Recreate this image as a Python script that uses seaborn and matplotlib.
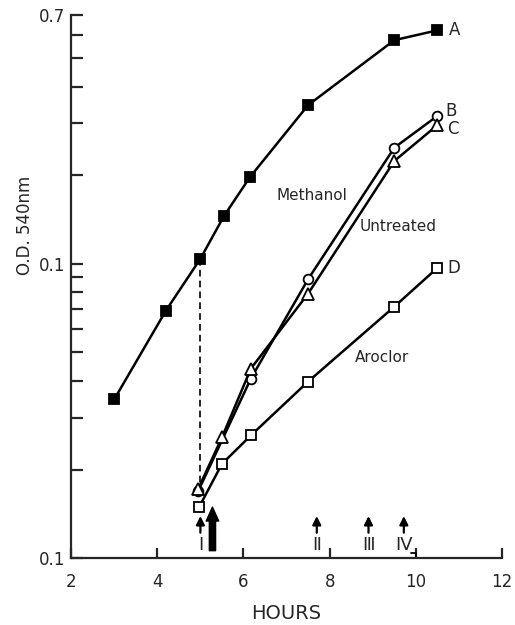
import matplotlib
matplotlib.use('Agg')
import matplotlib.pyplot as plt
import seaborn as sns
from matplotlib.ticker import FixedLocator, NullFormatter

sns.set_style("ticks")
plt.rcParams.update({
    'font.family': ['DejaVu Sans'],
    'axes.linewidth': 1.6,
})

# growth curves, O.D. 540 nm vs hours
hours_A = [3.0, 4.2, 5.0, 5.55, 6.15, 7.5, 9.5, 10.5]
od_A = [0.0346, 0.0693, 0.104, 0.1455, 0.197, 0.346, 0.575, 0.621]

hours_B = [4.95, 6.17, 7.5, 9.5, 10.5]   # untreated
od_B = [0.0169, 0.0407, 0.0887, 0.248, 0.318]

hours_C = [4.95, 5.5, 6.17, 7.5, 9.5, 10.5]   # methanol
od_C = [0.0172, 0.0257, 0.044, 0.0792, 0.2235, 0.296]

hours_D = [4.97, 5.5, 6.17, 7.5, 9.5, 10.5]   # aroclor
od_D = [0.0149, 0.0209, 0.0261, 0.0398, 0.0715, 0.0969]

# sampling times (small arrows) and treatment time (big arrow)
sample_hours = [5.0, 7.7, 8.9, 9.72]
sample_labels = ['Ⅰ', 'Ⅱ', 'Ⅲ', 'Ⅳ']
treat_hour = 5.28

fig, ax = plt.subplots(figsize=(5.15, 6.25), dpi=100)
fig.subplots_adjust(left=0.138, right=0.975, top=0.976, bottom=0.107)

common = dict(ax=ax, color='black', linewidth=1.8, mec='black', mew=1.3, zorder=3)
sns.lineplot(x=hours_A, y=od_A, marker='s', ms=6.5, mfc='black', **common)
sns.lineplot(x=hours_B, y=od_B, marker='o', ms=7, mfc='white', **common)
sns.lineplot(x=hours_C, y=od_C, marker='^', ms=8.5, mfc='white', **common)
sns.lineplot(x=hours_D, y=od_D, marker='s', ms=6.5, mfc='white', **common)

# dashed drop from culture A to the start of the treated cultures
ax.plot([hours_A[2], hours_A[2]], [od_A[2], od_B[0]], ls=(0, (4, 2.5)),
        color='black', lw=1.2, zorder=2)

# series letters
for hx, hy, lab, dx, dy in [(hours_A[-1], od_A[-1], 'A', 8.5, 0),
                            (hours_B[-1], od_B[-1], 'B', 6, 3.5),
                            (hours_C[-1], od_C[-1], 'C', 7, -3),
                            (hours_D[-1], od_D[-1], 'D', 7, 0)]:
    ax.annotate(lab, (hx, hy), xytext=(dx, dy), textcoords='offset points',
                ha='left', va='center', fontsize=12)

ax.text(7.58, 0.17, 'Methanol', ha='center', va='center', fontsize=11)
ax.text(9.58, 0.1335, 'Untreated', ha='center', va='center', fontsize=11)
ax.text(9.22, 0.048, 'Aroclor', ha='center', va='center', fontsize=11)

# sample arrows + roman numerals
for hx, lab in zip(sample_hours, sample_labels):
    ax.annotate('', xy=(hx, 0.0139), xytext=(hx, 0.0122),
                arrowprops=dict(arrowstyle='-|>,head_width=0.25,head_length=0.5',
                                lw=1.6, color='black', shrinkA=0, shrinkB=0))
    ax.text(hx, 0.0111, lab, ha='center', va='center', fontsize=13)

ax.plot([sample_hours[3] + 0.17, 10, 10], [0.0104, 0.0104, 0.01],
        color='black', lw=1.3, clip_on=False)

ax.annotate('', xy=(treat_hour, 0.0149), xytext=(treat_hour, 0.0106),
            arrowprops=dict(arrowstyle='simple,head_width=0.9,head_length=1.0,tail_width=0.45',
                            color='black', shrinkA=0, shrinkB=0))

ax.set_yscale('log')
ax.set_xlim(2, 12)
ax.set_ylim(0.01, 0.7)

ax.yaxis.set_major_locator(FixedLocator([0.01, 0.1, 0.7]))
ax.set_yticklabels(['0.1', '0.1', '0.7'])
ax.yaxis.set_minor_locator(FixedLocator([0.02, 0.03, 0.04, 0.05, 0.06, 0.07, 0.08, 0.09,
                                         0.2, 0.3, 0.4, 0.5, 0.6]))
ax.yaxis.set_minor_formatter(NullFormatter())
ax.set_xticks([2, 4, 6, 8, 10, 12])
ax.set_xticklabels(['2', '4', '6', '8', '10', '12'])

ax.tick_params(axis='y', which='both', direction='in', length=8.5, width=1.6,
               labelsize=12, pad=4)
ax.tick_params(axis='x', which='both', direction='in', length=7, width=1.6,
               labelsize=12, pad=11)

sns.despine(ax=ax)
ax.set_xlabel('HOURS', fontsize=14, labelpad=9)
ax.set_ylabel('O.D. 540nm', fontsize=12)
ax.yaxis.set_label_coords(-0.085, 0.613)

fig.savefig('out.png', dpi=100)
